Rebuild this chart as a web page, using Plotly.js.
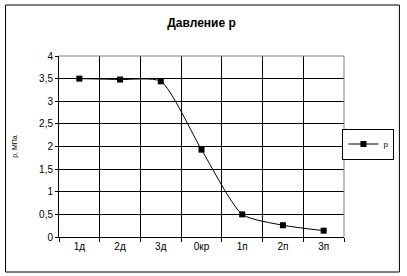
<!DOCTYPE html>
<html>
<head>
<meta charset="utf-8">
<script src="https://cdn.plot.ly/plotly-3.0.1.min.js"></script>
<style>html,body{margin:0;padding:0;background:#fff;}#chart{width:407px;height:276px;}</style>
</head>
<body>
<div id="chart"></div>
<script>
const categories = ["1д", "2д", "3д", "0кр", "1п", "2п", "3п"];
const pValues = [3.5, 3.48, 3.44, 1.93, 0.5, 0.26, 0.14];
const yTicks = [0, 0.5, 1, 1.5, 2, 2.5, 3, 3.5, 4];
const seriesName = "p";

const L = 59, R = 60, T = 56, B = 39, W = 407, H = 276;
const pw = W - L - R, ph = H - T - B;
const px = x => (x - L) / pw;
const py = y => (H - B - y) / ph;

const trace = {
  x: categories, y: pValues, name: seriesName, type: 'scatter', mode: 'lines+markers',
  line: {color: '#000', width: 1, shape: 'spline', smoothing: 0.6},
  marker: {symbol: 'square', size: 6, color: '#000'}
};
const layout = {
  width: W, height: H,
  margin: {l: L, r: R, t: T, b: B, pad: 0},
  paper_bgcolor: '#fff', plot_bgcolor: '#fff',
  separators: ', ',
  font: {family: 'Liberation Sans, Arial, sans-serif', size: 10, color: '#000'},
  title: {text: '<b>Давление p</b>', font: {size: 12, color: '#000'}, x: 0.5, xref: 'paper', xanchor: 'center', y: 1 - 23 / H, yanchor: 'middle'},
  showlegend: true,
  legend: {x: px(398), xanchor: 'right', y: py(144), yanchor: 'middle', bordercolor: '#000', borderwidth: 1, bgcolor: '#fff', font: {size: 8, color: '#000'}, itemwidth: 30, tracegroupgap: 0},
  xaxis: {type: 'category', tickson: 'boundaries', range: [-0.5, 6.5], showgrid: true, gridcolor: '#000', gridwidth: 1,
    showline: true, linecolor: '#000', linewidth: 1, ticks: 'outside', ticklen: 4, tickcolor: '#000', zeroline: false, fixedrange: true},
  yaxis: {range: [0, 4], tickvals: yTicks, showgrid: true, gridcolor: '#000', gridwidth: 1,
    showline: true, linecolor: '#000', linewidth: 1, ticks: 'outside', ticklen: 3, tickcolor: '#000', zeroline: false,
    title: {text: 'p, МПа', font: {size: 7, color: '#000'}, standoff: 20}, fixedrange: true},
  shapes: [
    {type: 'line', xref: 'paper', yref: 'paper', x0: 0, x1: 1, y0: 1, y1: 1, line: {color: '#808080', width: 1}, layer: 'above'},
    {type: 'line', xref: 'paper', yref: 'paper', x0: 1, x1: 1, y0: 0, y1: 1, line: {color: '#808080', width: 1}, layer: 'above'},
    {type: 'rect', xref: 'paper', yref: 'paper', x0: px(5), x1: px(403), y0: py(272), y1: py(5), line: {color: '#000', width: 1}, fillcolor: 'rgba(0,0,0,0)', layer: 'above'}
  ]
};
Plotly.newPlot('chart', [trace], layout, {displayModeBar: false, staticPlot: true});
</script>
</body>
</html>
